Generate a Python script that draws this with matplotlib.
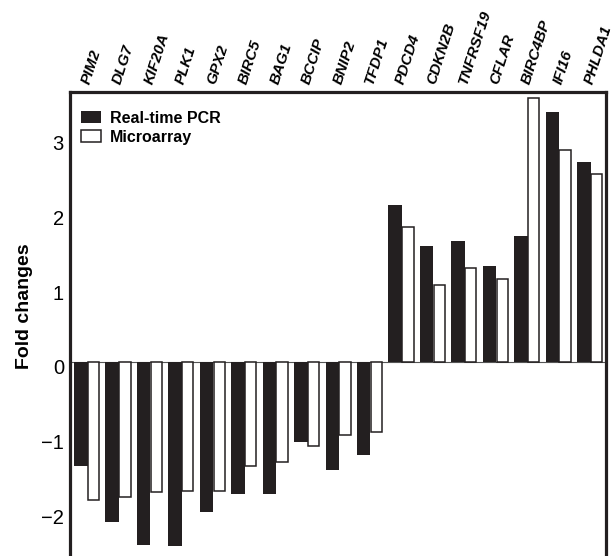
import matplotlib
matplotlib.use("Agg")
import matplotlib.pyplot as plt
import matplotlib.transforms as mtransforms
import numpy as np

genes = ["PIM2", "DLG7", "KIF20A", "PLK1", "GPX2", "BIRC5", "BAG1", "BCCIP", "BNIP2",
         "TFDP1", "PDCD4", "CDKN2B", "TNFRSF19", "CFLAR", "BIRC4BP", "IFI16", "PHLDA1"]
pcr = [-1.40, -2.14, -2.45, -2.46, -2.01, -1.77, -1.77, -1.07, -1.45,
       -1.25, 2.10, 1.55, 1.62, 1.29, 1.69, 3.35, 2.68]
array = [-1.85, -1.81, -1.74, -1.73, -1.73, -1.40, -1.34, -1.13, -0.98,
         -0.94, 1.80, 1.03, 1.26, 1.11, 3.53, 2.83, 2.52]
yticks = [-2, -1, 0, 1, 2, 3]

plt.rcParams["font.family"] = ["Liberation Sans", "DejaVu Sans"]
ink = "#231f20"

fig = plt.figure(figsize=(6.14, 5.56), dpi=100)
ax = fig.add_axes([69.5 / 614, 0, 536 / 614, (556 - 91.5) / 556])

x = np.arange(len(genes))
ax.axhline(0, color="#555555", lw=0.8, zorder=1)
ax.bar(x, pcr, width=0.43, align="edge", color=ink, linewidth=0,
       label="Real-time PCR", zorder=2)
ax.bar(x + 0.44, array, width=0.36, align="edge", color="white",
       edgecolor=ink, linewidth=1.1, label="Microarray", zorder=2)

ax.set_xlim(-0.143, 16.905)
ax.set_ylim(-2.60, 3.62)

# gene names on top, slanted
ax.xaxis.tick_top()
ax.set_xticks(x + 0.40)
ax.set_xticklabels(genes, rotation=72, rotation_mode="anchor", ha="left", va="bottom",
                   fontsize=11, fontweight="bold", fontstyle="italic")
ax.tick_params(axis="x", length=0, pad=4)
xshift = mtransforms.ScaledTranslation(0.06, 0, fig.dpi_scale_trans)
for lab in ax.get_xticklabels():
    lab.set_transform(lab.get_transform() + xshift)

ax.set_yticks(yticks)
ax.tick_params(axis="y", length=0, pad=4, labelsize=14.5)
yshift = mtransforms.ScaledTranslation(0, -0.05, fig.dpi_scale_trans)
for lab in ax.get_yticklabels():
    lab.set_transform(lab.get_transform() + yshift)

ax.set_ylabel("Fold changes", fontsize=14, fontweight="bold")
ax.yaxis.set_label_coords(-0.068, 0.538)

for side in ["left", "top", "right"]:
    ax.spines[side].set_linewidth(2.3)
    ax.spines[side].set_color(ink)
ax.spines["bottom"].set_visible(False)

ax.legend(loc="upper left", bbox_to_anchor=(0.0215, 0.9585), frameon=False,
          handlelength=1.25, handleheight=0.8, handletextpad=0.55,
          labelspacing=0.25, borderpad=0, borderaxespad=0,
          prop={"weight": "bold", "size": 11.5})

fig.savefig("out.png", dpi=100)
